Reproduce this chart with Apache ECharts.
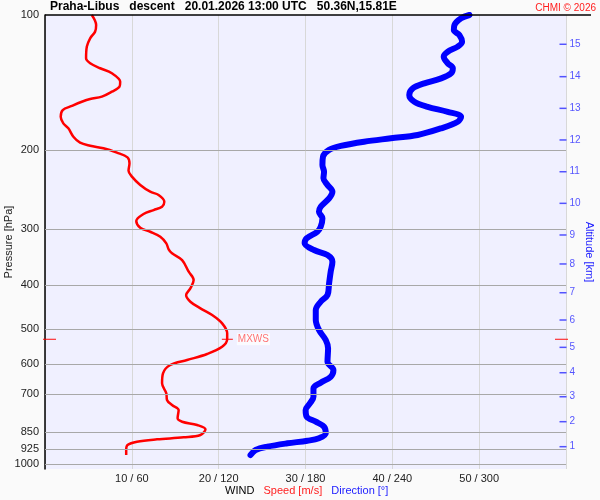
<!DOCTYPE html>
<html>
<head>
<meta charset="utf-8">
<script src="https://cdn.jsdelivr.net/npm/echarts@6/dist/echarts.min.js"></script>
<style>
html,body{margin:0;padding:0;background:#fafafa;}
#c{width:600px;height:500px;}
</style>
</head>
<body>
<div id="c"></div>
<script>
// ---- data ----
const pressLevels = [100, 200, 300, 400, 500, 600, 700, 850, 925, 1000];
const speedTicks = [0, 10, 20, 30, 40, 50, 60];
const speedTickLabels = ['', '10 / 60', '20 / 120', '30 / 180', '40 / 240', '50 / 300', ''];

const speedPres = [100, 105.3, 108.9, 112.7, 117.6, 124.9, 128.1, 131.4, 134.8, 140.8, 144.4, 148.2, 152.0, 153.8, 156.0, 159.4, 162.8, 168.5, 174.3, 178.8, 186.7, 192.5, 195.5, 198.1, 202.6, 207.5, 213.9, 222.2, 229.1, 239.1, 247.5, 251.7, 260.5, 267.3, 271.9, 277.5, 287.7, 297.7, 303.9, 311.8, 322.5, 332.6, 339.5, 351.4, 373.1, 389.3, 406.2, 420.4, 435.1, 450.1, 465.9, 486.1, 511.6, 527.6, 548.1, 568.9, 586.7, 601.9, 628.1, 661.2, 695.9, 720.3, 739.0, 758.2, 791.2, 805.1, 818.8, 837.1, 861.9, 872.2, 881.2, 892.1, 907.4, 931.0, 955.0];
const speedVals = [5.39, 5.89, 5.77, 5.20, 4.82, 4.73, 5.20, 6.35, 7.70, 8.66, 8.58, 7.70, 6.55, 5.20, 4.24, 3.08, 2.04, 1.81, 2.11, 2.69, 3.27, 4.04, 5.20, 6.73, 8.28, 9.50, 9.73, 9.62, 10.01, 10.97, 12.12, 13.08, 13.74, 13.48, 12.51, 11.35, 10.51, 10.97, 12.12, 13.28, 13.97, 14.24, 14.63, 15.79, 16.55, 17.12, 16.74, 16.25, 16.74, 17.90, 19.25, 20.40, 20.98, 20.98, 20.40, 18.67, 16.36, 14.43, 13.59, 13.48, 13.97, 14.05, 14.63, 15.39, 15.27, 15.79, 17.52, 18.48, 17.90, 15.97, 12.90, 10.59, 9.50, 9.35, 9.35];

const dirPres = [100, 101.7, 105.3, 108.0, 110.8, 114.7, 117.6, 120.7, 123.8, 128.1, 131.4, 134.8, 138.4, 142.0, 145.7, 150.7, 156.0, 160.1, 164.3, 168.5, 172.9, 178.8, 185.0, 188.2, 191.5, 195.7, 199.7, 206.8, 215.8, 223.4, 231.1, 239.1, 247.5, 256.0, 267.3, 274.3, 283.7, 296.2, 303.9, 314.3, 322.5, 333.8, 342.5, 354.3, 373.1, 396.0, 420.4, 435.1, 454.0, 477.9, 502.9, 529.5, 552.6, 591.8, 617.6, 639.3, 659.1, 678.4, 708.3, 732.6, 758.2, 784.8, 805.1, 826.0, 854.5, 876.6, 887.6, 899.4, 915.1, 931.0, 955.0];
const dirVals = [293.3, 287.5, 282.9, 282.5, 286.3, 288.2, 285.2, 278.3, 275.5, 278.3, 281.8, 280.6, 273.7, 262.1, 254.1, 251.7, 255.2, 264.4, 278.3, 287.5, 285.2, 273.7, 257.5, 239.0, 220.5, 204.4, 196.3, 192.1, 191.7, 192.8, 192.4, 195.2, 198.6, 196.3, 190.5, 189.3, 191.7, 190.5, 188.2, 180.8, 179.4, 185.9, 195.2, 198.6, 197.4, 196.3, 195.2, 190.5, 187.1, 187.1, 189.3, 194.0, 195.6, 195.2, 199.3, 197.4, 190.5, 185.5, 185.5, 183.1, 180.1, 180.8, 187.1, 192.8, 194.0, 189.3, 181.3, 167.5, 153.6, 145.5, 142.0];

const altKm = [1, 2, 3, 4, 5, 6, 7, 8, 9, 10, 11, 12, 13, 14, 15];
const altPres = [915.1, 805.0, 708.3, 626.2, 549.8, 477.9, 415.5, 358.5, 309.0, 262.7, 223.4, 189.8, 161.4, 137.2, 116.2];

const mxwsSpeed = 21.0;
const mxwsPres = 527.6;

// ---- chart ----
const FONT = 'Liberation Sans, Arial, sans-serif';
const chart = echarts.init(document.getElementById('c'), null, {renderer: 'canvas'});

const option = {
  animation: false,
  backgroundColor: '#fafafa',
  textStyle: {fontFamily: FONT},
  title: [
    {
      text: 'Praha-Libus   descent   20.01.2026 13:00 UTC   50.36N,15.81E',
      left: 50, top: 1, padding: 0,
      textStyle: {fontFamily: FONT, fontSize: 12, fontWeight: 'bold', color: '#000'}
    },
    {
      text: 'CHMI © 2026',
      right: 4, top: 3, padding: 0,
      textStyle: {fontFamily: FONT, fontSize: 10, fontWeight: 'normal', color: '#ff2020'}
    },
    {
      text: '{k|WIND}   {r|Speed [m/s]}   {b|Direction [°]}',
      left: 225, top: 485, padding: 0,
      textStyle: {
        fontFamily: FONT, fontSize: 11, fontWeight: 'normal',
        rich: {
          k: {color: '#000', fontSize: 11, fontFamily: FONT},
          r: {color: '#ff2020', fontSize: 11, fontFamily: FONT},
          b: {color: '#2020ff', fontSize: 11, fontFamily: FONT}
        }
      }
    }
  ],
  grid: {
    left: 45, right: 34, top: 15, bottom: 31,
    outerBoundsMode: 'none', containLabel: false,
    show: true, backgroundColor: '#f0f0ff', borderWidth: 0
  },
  xAxis: [
    {
      type: 'value', min: 0, max: 60, interval: 10,
      axisLine: {show: false}, axisTick: {show: false},
      axisLabel: {
        color: '#222', fontSize: 11, fontFamily: FONT, margin: 4,
        showMinLabel: true, showMaxLabel: true,
        formatter: v => { const i = speedTicks.indexOf(v); return i >= 0 ? speedTickLabels[i] : ''; }
      },
      splitLine: {show: true, lineStyle: {color: '#d8d8d8', width: 1}}
    },
    {
      type: 'value', min: 0, max: 360, show: false
    }
  ],
  yAxis: {
    type: 'log', min: 100, max: 1026, inverse: true, logBase: 10,
    axisLine: {show: true, lineStyle: {color: '#000', width: 1.5}},
    axisTick: {show: false}, axisLabel: {show: false},
    splitLine: {show: false},
    name: 'Pressure [hPa]', nameLocation: 'middle', nameGap: 31, nameRotate: 90,
    nameTextStyle: {color: '#222', fontSize: 11, fontFamily: FONT}
  },
  graphic: [
    {type: 'line', shape: {x1: 45, y1: 15, x2: 591, y2: 15}, style: {stroke: '#000', lineWidth: 1.5}, z: 100},
    {type: 'text', x: 589, y: 252, rotation: -Math.PI / 2,
     style: {text: 'Altitude [km]', fill: '#2020ff', fontSize: 11, fontFamily: FONT, align: 'center', verticalAlign: 'middle'}, z: 100}
  ],
  series: [
    {
      name: 'levels', type: 'line', data: [], z: 1, silent: true,
      markLine: {
        silent: true, symbol: ['none', 'none'], animation: false,
        lineStyle: {color: '#a8a8a8', width: 1, type: 'solid'},
        label: {
          show: true, position: 'start', distance: 6,
          color: '#222', fontSize: 11, fontFamily: FONT,
          formatter: p => String(p.value)
        },
        emphasis: {disabled: true},
        data: pressLevels.map(p => p === 100 ? {yAxis: p, lineStyle: {color: 'rgba(0,0,0,0)'}} : {yAxis: p})
      }
    },
    {
      name: 'Direction', type: 'line', xAxisIndex: 1, z: 3,
      data: dirVals.map((d, i) => [d, dirPres[i]]),
      showSymbol: false, symbol: 'none', smooth: 0.35,
      lineStyle: {color: '#0000ff', width: 6, cap: 'round', join: 'round'}
    },
    {
      name: 'Speed', type: 'line', xAxisIndex: 0, z: 4,
      data: speedVals.map((s, i) => [s, speedPres[i]]),
      showSymbol: false, symbol: 'none', smooth: 0.35,
      lineStyle: {color: '#ff0000', width: 2.5, join: 'round'}
    },
    {
      name: 'Altitude', type: 'scatter', xAxisIndex: 0, z: 5, clip: false, silent: true,
      data: altKm.map((k, i) => [60, altPres[i]]),
      symbol: 'rect', symbolSize: [7, 1.5], symbolOffset: [-3, 0],
      itemStyle: {color: '#2a2aff'},
      label: {
        show: true, position: 'right', distance: 3,
        color: '#2a2aff', fontSize: 10, fontFamily: FONT,
        formatter: p => String(altKm[p.dataIndex])
      }
    },
    {
      name: 'MXWS', type: 'scatter', xAxisIndex: 0, z: 6, clip: false, silent: true,
      data: [
        {value: [0, mxwsPres], symbolSize: [13, 1.2], symbolOffset: [4.5, 0]},
        {value: [mxwsSpeed, mxwsPres], symbolSize: [11, 1.2], symbolOffset: [0, 0],
         label: {show: true, position: 'right', distance: 4, formatter: 'MXWS',
                 color: '#ff5050', fontSize: 10, fontFamily: FONT,
                 backgroundColor: 'rgba(255,255,255,0.9)', padding: [1, 1]}},
        {value: [60, mxwsPres], symbolSize: [13, 1.2], symbolOffset: [-4.5, 0]}
      ],
      symbol: 'rect',
      itemStyle: {color: '#ff0000'},
      label: {show: false}
    }
  ]
};
chart.setOption(option);
</script>
</body>
</html>
